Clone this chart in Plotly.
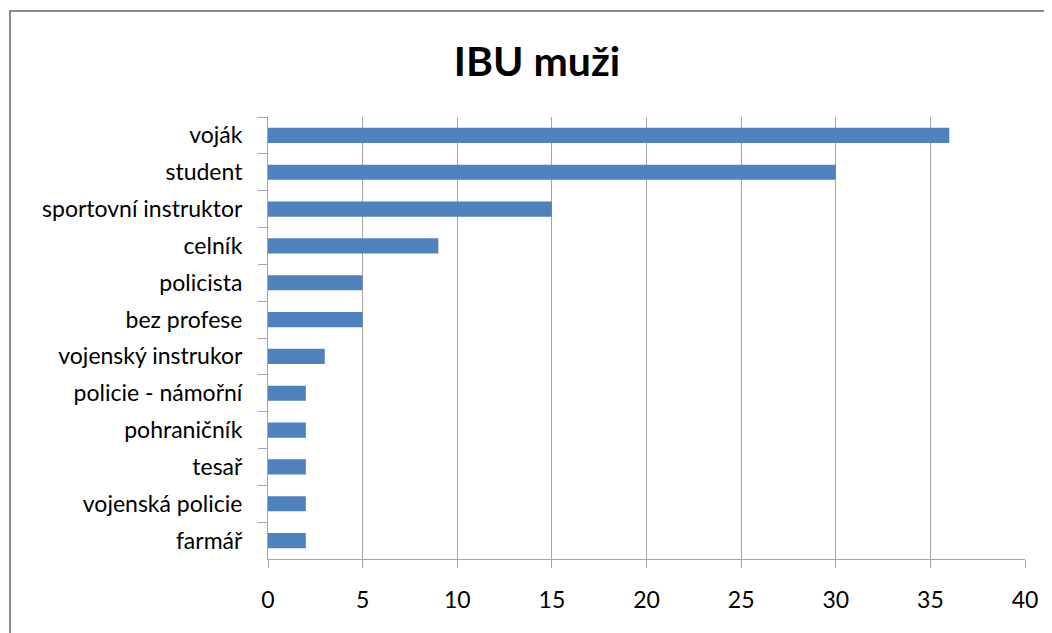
import plotly.graph_objects as go

categories = ["voják", "student", "sportovní instruktor", "celník", "policista",
              "bez profese", "vojenský instrukor", "policie - námořní",
              "pohraničník", "tesař", "vojenská policie", "farmář"]
values = [36, 30, 15, 9, 5, 5, 3, 2, 2, 2, 2, 2]
x_ticks = [0, 5, 10, 15, 20, 25, 30, 35, 40]
title = "IBU muži"

FONT = "Lato, Open Sans, sans-serif"
W, H = 1044, 625

fig = go.Figure(go.Bar(
    y=categories, x=values, orientation="h",
    marker=dict(color="#4f81bd", line=dict(width=0)),
    width=0.41,
))

fig.update_layout(
    width=W, height=H,
    margin=dict(l=260, r=27, t=109, b=74),
    paper_bgcolor="white", plot_bgcolor="white",
    title=dict(text="<b>" + title + "</b>", x=(537 - 8) / W, xref="container", xanchor="center",
               y=1 - 54 / H, yref="container", yanchor="middle",
               font=dict(family=FONT, size=41, color="black")),
    showlegend=False,
    xaxis=dict(range=[0, 40], tickvals=x_ticks, showgrid=True, gridcolor="#a6a6a6",
               gridwidth=1, showline=True, linecolor="#a6a6a6", linewidth=1,
               ticks="outside", ticklen=8, tickcolor="#a6a6a6",
               ticklabelstandoff=12, zeroline=False,
               tickfont=dict(family=FONT, size=23, color="black"), fixedrange=True),
    yaxis=dict(autorange="reversed", showgrid=False, showline=True, linecolor="#a6a6a6",
               linewidth=1, ticks="outside", ticklen=9, tickcolor="#a6a6a6",
               tickson="boundaries", ticklabelstandoff=20,
               tickfont=dict(family=FONT, size=23, color="black")),
)

# outer chart frame
fig.add_shape(type="rect", xref="paper", yref="paper",
              x0=(2 - 260) / 757, x1=1.2, y0=-0.3, y1=(551 - 3) / 442,
              line=dict(color="#8c8c8c", width=2), fillcolor="rgba(0,0,0,0)", layer="below")

fig.write_html("out.html")
